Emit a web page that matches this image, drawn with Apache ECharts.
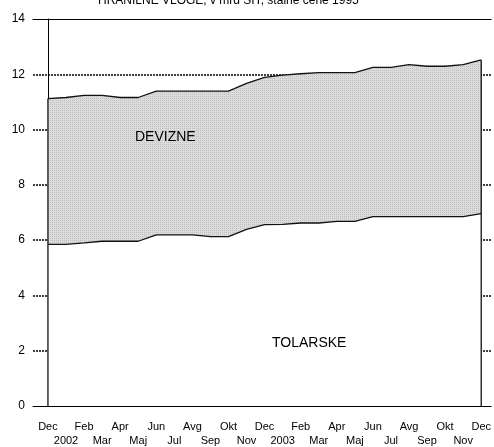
<!DOCTYPE html>
<html>
<head>
<meta charset="utf-8">
<script src="https://cdn.jsdelivr.net/npm/echarts@6/dist/echarts.min.js"></script>
<style>html,body{margin:0;padding:0;background:#fff;}#c{width:494px;height:447px;}</style>
</head>
<body>
<div id="c"></div>
<script>
var titleText = 'HRANILNE VLOGE, v mrd SIT, stalne cene 1995';
var monthLabels = ['Dec','2002','Feb','Mar','Apr','Maj','Jun','Jul','Avg','Sep','Okt','Nov',
                   'Dec','2003','Feb','Mar','Apr','Maj','Jun','Jul','Avg','Sep','Okt','Nov','Dec'];
var tolarske = [5.85,5.85,5.90,5.96,5.96,5.96,6.19,6.19,6.19,6.13,6.13,6.39,6.56,
                6.57,6.62,6.62,6.68,6.68,6.85,6.85,6.85,6.85,6.85,6.85,6.96];
var devizne  = [5.27,5.31,5.34,5.28,5.20,5.20,5.20,5.20,5.20,5.26,5.26,5.28,5.33,
                5.40,5.40,5.44,5.38,5.38,5.40,5.40,5.50,5.44,5.44,5.50,5.56];
var yTicks = [0,2,4,6,8,10,12,14];
var seriesNames = ['DEVIZNE','TOLARSKE'];

var idx = monthLabels.map(function(_, i){ return i; });
var evenIdx = idx.filter(function(i){ return i % 2 === 0; });
var oddIdx = idx.filter(function(i){ return i % 2 === 1; });
var totals = tolarske.map(function(v, i){ return +(v + devizne[i]).toFixed(2); });
var totalData = idx.map(function(i){ return [i, totals[i]]; });
var tolData = idx.map(function(i){ return [i, tolarske[i]]; });
var last = idx.length - 1;

// dotted texture
var pc = document.createElement('canvas');
pc.width = 2; pc.height = 2;
var g = pc.getContext('2d');
g.fillStyle = '#dcdcdc'; g.fillRect(0,0,2,2);
g.fillStyle = '#c0c0c0'; g.fillRect(0,0,1,1);

var chart = echarts.init(document.getElementById('c'), null, {renderer:'canvas'});
var font = 'Liberation Sans, Arial, sans-serif';
var XMIN = -0.828, XMAX = 24.55;
function labFmt(v){ return monthLabels[Math.round(v)] || ''; }
var labBase = {color: '#000', fontSize: 11, fontFamily: font, hideOverlap: false,
               showMinLabel: true, showMaxLabel: true, formatter: labFmt};
chart.setOption({
  animation: false,
  backgroundColor: '#fff',
  textStyle: {fontFamily: font},
  title: {text: titleText, left: 98, top: -5, padding: 0,
          textStyle: {fontSize: 12, fontWeight: 'normal', color: '#000', fontFamily: font}},
  grid: {left: 33, right: 1, top: 19, bottom: 41},
  xAxis: [{
    type: 'value', min: XMIN, max: XMAX, z: 5,
    axisLine: {show: true, lineStyle: {color: '#000', width: 1}},
    axisTick: {show: false},
    splitLine: {show: false},
    axisLabel: Object.assign({}, labBase, {customValues: evenIdx, margin: 15})
  },{
    type: 'value', position: 'bottom', min: XMIN, max: XMAX,
    axisLine: {show: false},
    axisTick: {show: false},
    splitLine: {show: false},
    axisLabel: Object.assign({}, labBase, {customValues: oddIdx, margin: 29})
  },{
    type: 'value', position: 'top', min: XMIN, max: XMAX, z: 5,
    axisLine: {show: true, lineStyle: {color: '#000', width: 1}},
    axisTick: {show: false}, axisLabel: {show: false}, splitLine: {show: false}
  }],
  yAxis: {
    type: 'value', min: 0, max: 14, interval: 2,
    axisLine: {show: true, lineStyle: {color: '#000', width: 1}},
    axisTick: {show: false},
    axisLabel: {color: '#000', fontSize: 12, fontFamily: font, margin: 8,
      formatter: function(v){ return yTicks.indexOf(v) >= 0 ? String(v) : ''; }},
    splitLine: {show: true, showMinLine: false, showMaxLine: false,
                lineStyle: {color: '#000', width: 1.5, type: [2,1]}}
  },
  series: [
    {name: seriesNames[0], type: 'line', data: totalData, symbol: 'none', silent: true,
     lineStyle: {color: '#111', width: 1.3},
     areaStyle: {color: {image: pc, repeat: 'repeat'}, opacity: 1, origin: 'start'}},
    {name: seriesNames[1], type: 'line', data: tolData, symbol: 'none', silent: true,
     lineStyle: {color: '#111', width: 1.3},
     areaStyle: {color: '#fff', opacity: 1, origin: 'start'}},
    {type: 'line', data: [[0, 0], [0, totals[0]]], symbol: 'none', silent: true, z: 4,
     lineStyle: {color: '#111', width: 1.3}},
    {type: 'line', data: [[last, 0], [last, totals[last]]], symbol: 'none', silent: true, z: 4,
     lineStyle: {color: '#111', width: 1.3}}
  ],
  graphic: [
    {type: 'text', left: 135, top: 130, silent: true, z: 100,
     style: {text: seriesNames[0], fontSize: 14, fontFamily: font, fill: '#000'}},
    {type: 'text', left: 272, top: 336, silent: true, z: 100,
     style: {text: seriesNames[1], fontSize: 14, fontFamily: font, fill: '#000'}}
  ]
});
</script>
</body>
</html>
